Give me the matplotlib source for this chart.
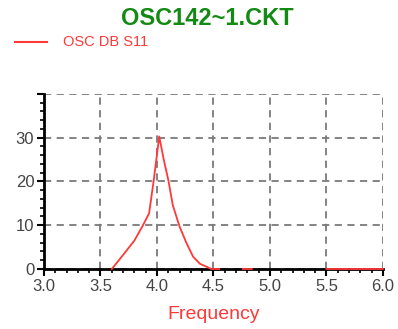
import numpy as np
import matplotlib
matplotlib.use('Agg')
import matplotlib.pyplot as plt
from matplotlib.ticker import MultipleLocator

title_text = 'OSC142~1.CKT'
series_name = 'OSC DB S11'
x_label = 'Frequency'

# S11 trace (dB), NaN where the trace is off-scale
freq = [3.60, 3.70, 3.80, 3.87, 3.93, 3.97, 4.02, 4.06, 4.10, 4.14, 4.20,
        4.26, 4.32, 4.38, 4.44, 4.48, 4.50, 4.55, np.nan,
        4.76, 4.84, np.nan, 5.50, 5.75, 6.00]
db_s11 = [0.0, 3.2, 6.5, 9.7, 12.7, 20.0, 30.3, 25.0, 20.4, 14.6, 9.7,
          6.0, 2.8, 1.2, 0.5, 0.0, 0.0, 0.0, np.nan,
          0.0, 0.0, np.nan, 0.0, 0.0, 0.0]

x_ticks = [3.0, 3.5, 4.0, 4.5, 5.0, 5.5, 6.0]
y_ticks = [0, 10, 20, 30, 40]
y_labels = ['0', '10', '20', '30', '']

red = '#ff3838'
green = '#138a13'
label_gray = '#444444'

plt.rcParams['font.family'] = ['Liberation Sans', 'DejaVu Sans']

fig = plt.figure(figsize=(3.98, 3.29), dpi=100)
ax = fig.add_axes([0.1106, 0.1824, 0.8514, 0.5319])

ax.plot(freq, db_s11, color=red, linewidth=1.3, zorder=5, clip_on=False)

ax.set_xlim(3.0, 6.0)
ax.set_ylim(0, 40)
ax.set_xticks(x_ticks)
ax.set_xticklabels(['%.1f' % v for v in x_ticks])
ax.set_yticks(y_ticks)
ax.set_yticklabels(y_labels)
ax.xaxis.set_minor_locator(MultipleLocator(0.1))
ax.yaxis.set_minor_locator(MultipleLocator(2))

ax.grid(True, which='major', color='#7a7a7a', linestyle=(0, (4, 3)), linewidth=1.3)
ax.spines['top'].set_visible(False)
ax.spines['right'].set_visible(False)
ax.spines['left'].set_linewidth(2)
ax.spines['bottom'].set_linewidth(2)

ax.tick_params(which='major', direction='out', length=5, width=1.5,
               labelsize=12, labelcolor=label_gray, pad=2)
ax.tick_params(which='minor', direction='out', length=3, width=1.2)

ax.set_xlabel(x_label, color=red, fontsize=14, labelpad=9)

fig.text(0.52, 0.943, title_text, color=green, fontsize=17, fontweight='bold',
         ha='center', va='center')

# legend entry in the top-left corner
fig.lines.append(plt.Line2D([0.038, 0.118], [0.873, 0.873], color=red,
                            linewidth=1.5, transform=fig.transFigure))
fig.text(0.158, 0.871, series_name, color=red, fontsize=10.5, ha='left', va='center')

fig.savefig('out.png', dpi=100)
